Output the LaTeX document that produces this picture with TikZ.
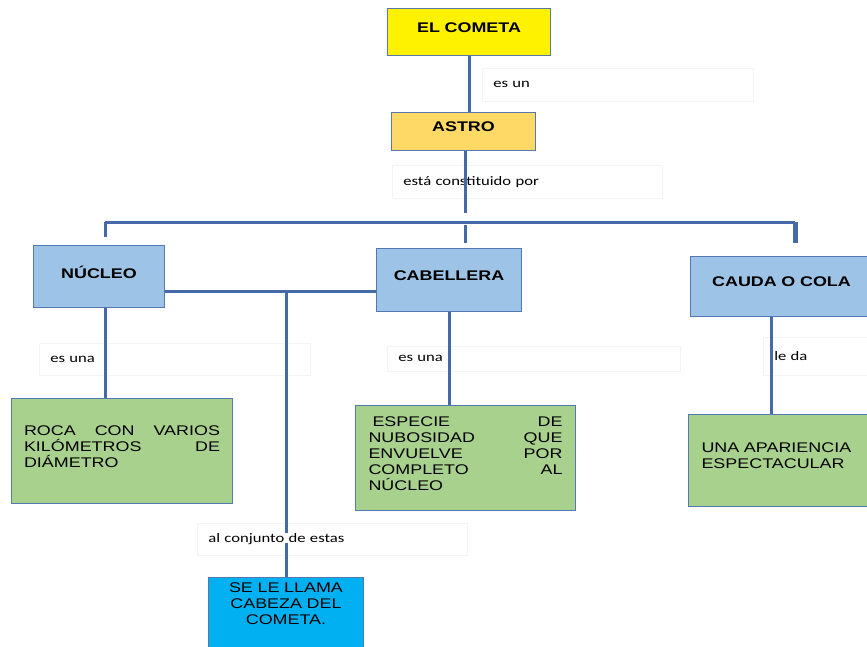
\documentclass[tikz,border=0pt]{standalone}
\usepackage{fontspec}
\setmainfont{Liberation Sans}[FakeStretch=1.28]
\newfontfamily\lblfont{Carlito}[FakeStretch=1.28]

\definecolor{linkblue}{RGB}{70,105,170}
\definecolor{boxline}{RGB}{84,120,176}
\definecolor{lblline}{RGB}{244,244,244}
\definecolor{gold}{RGB}{255,217,102}
\definecolor{sky}{RGB}{157,195,230}
\definecolor{leaf}{RGB}{169,209,142}
\definecolor{cyanbox}{RGB}{0,176,240}

\tikzset{
  box/.style={draw=boxline, line width=1pt, inner xsep=4pt, inner ysep=2pt, anchor=north west,
    font=\fontsize{14}{16}\selectfont, execute at end node={\par\kern9pt}},
  title/.style={box, align=center, font=\fontsize{14}{16}\selectfont\bfseries},
  lbl/.style={draw=lblline, fill=white, line width=0.6pt, anchor=north west, inner xsep=11pt,
    inner ysep=0pt, align=left, font=\lblfont\fontsize{13}{15}\selectfont},
  link/.style={draw=linkblue, line width=3pt},
}

\begin{document}
\begin{tikzpicture}[x=1pt,y=1pt,yscale=-1]
\useasboundingbox (0,0) rectangle (867,646);
\clip (0,0) rectangle (867,646);

% Boxes
\node[title, fill=yellow, minimum width=163, minimum height=47, text width=155] (cometa) at (387,8) {EL COMETA};
\node[title, fill=gold, minimum width=144, minimum height=38, text width=136] (astro) at (391,112) {ASTRO};
\node[title, fill=sky, minimum width=131, minimum height=62, text width=123] (nucleo) at (33,245) {NÚCLEO};
\node[title, fill=sky, minimum width=145, minimum height=63, text width=137] (cabellera) at (376,248) {CABELLERA};
\node[title, fill=sky, minimum width=182, minimum height=60, text width=164] (cauda) at (690,256) {CAUDA O COLA};
\node[box, fill=leaf, minimum width=221, minimum height=105, text width=196, align=left] (roca) at (11,398)
  {ROCA\hfill CON\hfill VARIOS\\KILÓMETROS\hfill DE\\DIÁMETRO};
\node[box, fill=leaf, minimum width=220, minimum height=105, text width=194, align=left] (especie) at (355,405)
  {\hspace*{4pt}ESPECIE\hfill DE\\NUBOSIDAD\hfill QUE\\ENVUELVE\hfill POR\\COMPLETO\hfill AL\\NÚCLEO};
\node[box, fill=leaf, minimum width=182, minimum height=92, text width=156, align=left] (apariencia) at (688,414)
  {UNA APARIENCIA\\ESPECTACULAR};
\node[box, fill=cyanbox, minimum width=155, minimum height=76, text width=140, align=center,
  execute at end node={\par\kern14pt}] (cabeza) at (208,577)
  {SE LE LLAMA\\CABEZA DEL\\COMETA.};

% Text Node
\node[lbl, text width=249, minimum height=33] (lesun) at (482,68) {es un};
\node[lbl, text width=248, minimum height=33] (lconst) at (392,165) {está constituido por};
\node[lbl, text width=249, minimum height=32] (lnuc) at (39,343) {es una};
\node[lbl, text width=271, minimum height=25] (lcab) at (387,346) {es una};
\node[lbl, text width=100, minimum height=38] (lcola) at (763,337) {le da};
\node[lbl, text width=248, minimum height=32] (lconj) at (197,523) {al conjunto de estas};

% Straight Lines
\coordinate (barL) at (105,222);
\coordinate (barR) at (795,222);
\coordinate (hub) at (465,222);
\coordinate (join) at (286,291);

\draw[link] (cometa.south) -- (cometa.south |- astro.north);
\draw[link] (astro.south -| hub) -- (hub |- 0,213);
\draw[link] (barL) -- (barR);
\draw[link] (barL) -- (barL |- 0,237);
\draw[link] (hub |- 0,225) -- (hub |- 0,243);
\draw[link, line width=5pt] (barR) -- (barR |- 0,243);

\draw[link] (nucleo.east |- join) -- (cabellera.west |- join);
\draw[link] (join) -- (join |- 0,533);
\draw[link] (join |- 0,543) -- (join |- cabeza.north);

\draw[link] (barL |- nucleo.south) -- (barL |- roca.north);
\draw[link] (cabellera.south) -- (cabellera.south |- especie.north);
\draw[link] (771,0 |- cauda.south) -- (771,0 |- apariencia.north);

\end{tikzpicture}
\end{document}
